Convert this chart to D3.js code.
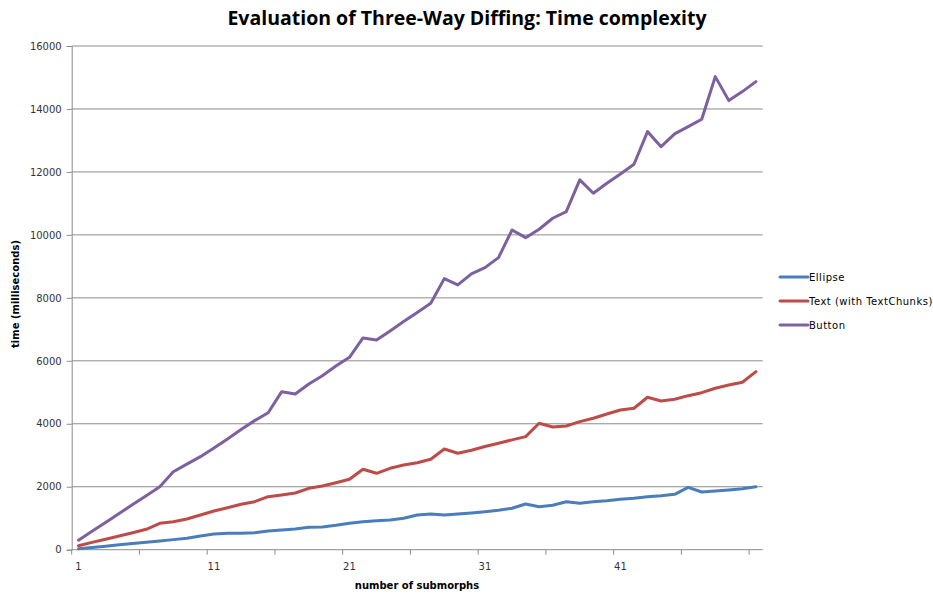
<!DOCTYPE html>
<html>
<head>
<meta charset="utf-8">
<script src="https://cdnjs.cloudflare.com/ajax/libs/d3/7.8.5/d3.min.js"></script>
<style>
  html, body { margin: 0; padding: 0; background: #fff; }
  svg { display: block; }
</style>
</head>
<body>
<svg id="chart" width="933" height="595"></svg>
<script>
// Number of submorphs (category axis)
const submorphs = d3.range(1, 52);
const xTickLabels = [1, 11, 21, 31, 41];
const yTicks = [0, 2000, 4000, 6000, 8000, 10000, 12000, 14000, 16000];

// Measured time in milliseconds per series
const ellipse = [30, 71, 112, 154, 195, 237, 279, 320, 362, 435,
  499, 521, 521, 540, 594, 626, 658, 711, 724, 775,
  838, 890, 921, 944, 998, 1102, 1134, 1102, 1134, 1166,
  1207, 1252, 1315, 1452, 1366, 1411, 1525, 1474, 1525, 1557,
  1601, 1633, 1684, 1716, 1760, 1982, 1833, 1865, 1897, 1938, 2001];

const textChunks = [127, 232, 334, 435, 537, 648, 838, 890, 975, 1102,
  1230, 1335, 1442, 1525, 1684, 1738, 1801, 1950, 2024, 2128,
  2237, 2554, 2427, 2586, 2691, 2764, 2872, 3199, 3063, 3161,
  3276, 3383, 3488, 3593, 4016, 3898, 3930, 4067, 4175, 4311,
  4438, 4492, 4842, 4724, 4778, 4893, 4988, 5128, 5232, 5318, 5655];

const button = [300, 583, 866, 1150, 1433, 1717, 2000, 2478, 2720, 2955,
  3230, 3520, 3820, 4100, 4352, 5020, 4947, 5264, 5528, 5836,
  6112, 6726, 6662, 6950, 7247, 7536, 7828, 8610, 8410, 8759,
  8960, 9277, 10157, 9912, 10180, 10528, 10739, 11746, 11323, 11641,
  11936, 12244, 13280, 12803, 13207, 13439, 13673, 15027, 14265, 14551, 14868];

const seriesNames = ["Ellipse", "Text (with TextChunks)", "Button"];
const seriesColors = ["#4A7EBB", "#BE4B48", "#7D60A0"];
const seriesValues = [ellipse, textChunks, button];

const svg = d3.select("#chart");
const margin = { left: 71.7, right: 170.3, top: 46, bottom: 45.3 };
const W = 933, H = 595;
const plotW = W - margin.left - margin.right;
const plotH = H - margin.top - margin.bottom;

const x = d3.scaleBand().domain(submorphs).range([margin.left, margin.left + plotW]);
const y = d3.scaleLinear().domain([0, 16000]).range([margin.top + plotH, margin.top]);

const gridColor = "#8C8C8C";
const labelFont = "'DejaVu Sans', Verdana, sans-serif";

// Horizontal gridlines
svg.append("g")
  .selectAll("line")
  .data(yTicks.filter(d => d > 0))
  .join("line")
  .attr("x1", margin.left).attr("x2", margin.left + plotW)
  .attr("y1", d => y(d)).attr("y2", d => y(d))
  .attr("stroke", gridColor).attr("stroke-width", 1);

// Y axis
const yAxis = d3.axisLeft(y).tickValues(yTicks).tickSize(5).tickPadding(5).tickFormat(d3.format("d"));
const gy = svg.append("g").attr("transform", `translate(${margin.left},0)`).call(yAxis);
gy.select(".domain").attr("stroke", gridColor);
gy.selectAll(".tick line").attr("stroke", gridColor);
gy.selectAll(".tick text")
  .attr("fill", "#333").style("font-family", labelFont).style("font-size", "10px");

// X axis: tick marks every 5 categories on the boundaries, labels every 10
const boundaries = d3.range(0, submorphs.length + 1, 5).map(i => margin.left + i * x.step());
const gx = svg.append("g");
gx.append("line")
  .attr("x1", margin.left).attr("x2", margin.left + plotW)
  .attr("y1", y(0)).attr("y2", y(0))
  .attr("stroke", gridColor);
gx.selectAll("line.tk")
  .data(boundaries)
  .join("line").attr("class", "tk")
  .attr("x1", d => d).attr("x2", d => d)
  .attr("y1", y(0)).attr("y2", y(0) + 5)
  .attr("stroke", gridColor);
gx.selectAll("text")
  .data(xTickLabels)
  .join("text")
  .attr("x", d => x(d) + x.bandwidth() / 2)
  .attr("y", y(0) + 20)
  .attr("text-anchor", "middle")
  .attr("fill", "#333")
  .style("font-family", labelFont).style("font-size", "10px")
  .text(d => d);

// Series lines
const line = d3.line()
  .x((d, i) => x(submorphs[i]) + x.bandwidth() / 2)
  .y(d => y(d));

svg.append("g")
  .selectAll("path")
  .data(seriesValues)
  .join("path")
  .attr("d", d => line(d))
  .attr("fill", "none")
  .attr("stroke", (d, i) => seriesColors[i])
  .attr("stroke-width", 3)
  .attr("stroke-linejoin", "round")
  .attr("stroke-linecap", "round");

// Title
svg.append("text")
  .attr("x", 467).attr("y", 25)
  .attr("text-anchor", "middle")
  .style("font-family", "'Open Sans', 'Liberation Sans', sans-serif")
  .style("font-weight", "bold").style("font-size", "19.5px")
  .attr("fill", "#000")
  .text("Evaluation of Three-Way Diffing: Time complexity");

// Axis titles
svg.append("text")
  .attr("transform", "translate(19,294) rotate(-90)")
  .attr("text-anchor", "middle")
  .style("font-family", labelFont).style("font-weight", "bold").style("font-size", "10px")
  .attr("fill", "#000")
  .text("time (milliseconds)");

svg.append("text")
  .attr("x", 417).attr("y", 589)
  .attr("text-anchor", "middle")
  .style("font-family", labelFont).style("font-weight", "bold").style("font-size", "10px")
  .attr("fill", "#000")
  .text("number of submorphs");

// Legend
const legend = svg.append("g")
  .selectAll("g")
  .data(seriesNames)
  .join("g")
  .attr("transform", (d, i) => `translate(780,${277 + i * 24})`);
legend.append("line")
  .attr("x1", 0).attr("x2", 28)
  .attr("stroke", (d, i) => seriesColors[i])
  .attr("stroke-width", 3).attr("stroke-linecap", "round");
legend.append("text")
  .attr("x", 29).attr("y", 4)
  .attr("fill", "#000")
  .style("font-family", labelFont).style("font-size", "10px")
  .style("letter-spacing", "0.5px")
  .text(d => d);
</script>
</body>
</html>
